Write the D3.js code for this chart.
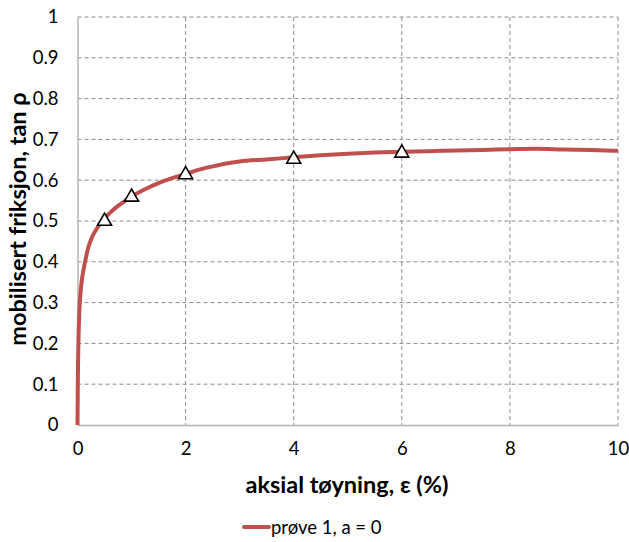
<!DOCTYPE html>
<html><head><meta charset="utf-8">
<script src="https://cdn.jsdelivr.net/npm/d3@7"></script>
<style>body{margin:0;background:#fff;} text{font-family:Lato,"Open Sans",sans-serif;}</style>
</head><body><svg id="c" width="629" height="542"></svg>
<script>
const curveX = [0, 0.005, 0.01, 0.02, 0.03, 0.045, 0.06, 0.08, 0.1, 0.14, 0.2, 0.26, 0.35, 0.5, 0.6, 0.75, 0.9, 1, 1.25, 1.5, 1.75, 2, 2.25, 2.5, 2.75, 3, 3.5, 4, 4.5, 5, 5.5, 6, 6.5, 7, 7.5, 8, 8.5, 9, 9.5, 10];
const curveY = [0, 0.09, 0.15, 0.22, 0.265, 0.305, 0.33, 0.355, 0.372, 0.40, 0.435, 0.458, 0.48, 0.507, 0.52, 0.537, 0.551, 0.56, 0.578, 0.593, 0.605, 0.615, 0.626, 0.634, 0.641, 0.646, 0.651, 0.656, 0.661, 0.665, 0.668, 0.670, 0.671, 0.673, 0.674, 0.676, 0.677, 0.675, 0.674, 0.672];
const markX = [0.5, 1, 2, 4, 6];
const markY = [0.502, 0.561, 0.616, 0.654, 0.669];
const xTicks = [0, 2, 4, 6, 8, 10];
const yTicks = [0, 0.1, 0.2, 0.3, 0.4, 0.5, 0.6, 0.7, 0.8, 0.9, 1];
const seriesName = "prøve 1, a = 0";
const xTitle = "aksial tøyning, ε (%)";
const yTitle = "mobilisert friksjon, tan ρ";

const svg = d3.select("#c");
const L = 77.5, R = 618, T = 17, B = 425;
const x = d3.scaleLinear().domain([0, 10]).range([L, R]);
const y = d3.scaleLinear().domain([0, 1]).range([B, T]);

// grid
svg.append("g").selectAll("line").data(yTicks.filter(d => d > 0)).join("line")
  .attr("x1", L).attr("x2", R).attr("y1", d => y(d)).attr("y2", d => y(d))
  .attr("stroke", "#8c8c8c").attr("stroke-width", 1).attr("stroke-dasharray", "4,3");
svg.append("g").selectAll("line").data(xTicks.filter(d => d > 0)).join("line")
  .attr("x1", d => x(d)).attr("x2", d => x(d)).attr("y1", T).attr("y2", B)
  .attr("stroke", "#8c8c8c").attr("stroke-width", 1).attr("stroke-dasharray", "4,3");

// axes
const xa = svg.append("g").attr("transform", `translate(0,${B})`)
  .call(d3.axisBottom(x).tickValues(xTicks).tickSize(0).tickPadding(17).tickFormat(d3.format("d")));
const ya = svg.append("g").attr("transform", `translate(${L},0)`)
  .call(d3.axisLeft(y).tickValues(yTicks).tickSize(0).tickPadding(19).tickFormat(d => d === 0 || d === 1 ? String(d) : d3.format(".1f")(d)));
[xa, ya].forEach(a => {
  a.select(".domain").attr("stroke", "#b3b3b3").attr("stroke-width", 1.5);
  a.selectAll("text").attr("font-size", 18.5).attr("fill", "#000").attr("font-family", "Lato, sans-serif");
});

// line
const line = d3.line().x((d, i) => x(curveX[i])).y((d, i) => y(curveY[i])).curve(d3.curveMonotoneX);
svg.append("path").datum(curveY).attr("d", line).attr("fill", "none")
  .attr("stroke", "#C0504D").attr("stroke-width", 4).attr("stroke-linejoin", "round");

// markers
const tri = d3.symbol().type(d3.symbolTriangle).size(85);
svg.append("g").selectAll("path").data(markX).join("path")
  .attr("d", tri).attr("transform", (d, i) => `translate(${x(d)},${y(markY[i]) + 1})`)
  .attr("fill", "#fff").attr("stroke", "#000").attr("stroke-width", 1.6);

// titles
svg.append("text").attr("x", 347).attr("y", 493).attr("text-anchor", "middle")
  .attr("font-size", 23.5).attr("font-weight", "bold").text(xTitle);
svg.append("text").attr("transform", "translate(26,219) rotate(-90)").attr("text-anchor", "middle")
  .attr("font-size", 23.5).attr("font-weight", "bold").text(yTitle);

// legend
svg.append("line").attr("x1", 244).attr("x2", 269).attr("y1", 527).attr("y2", 527)
  .attr("stroke", "#C0504D").attr("stroke-width", 4).attr("stroke-linecap", "round");
svg.append("text").attr("x", 271).attr("y", 533.5).attr("font-size", 18.5).text(seriesName);
</script></body></html>
